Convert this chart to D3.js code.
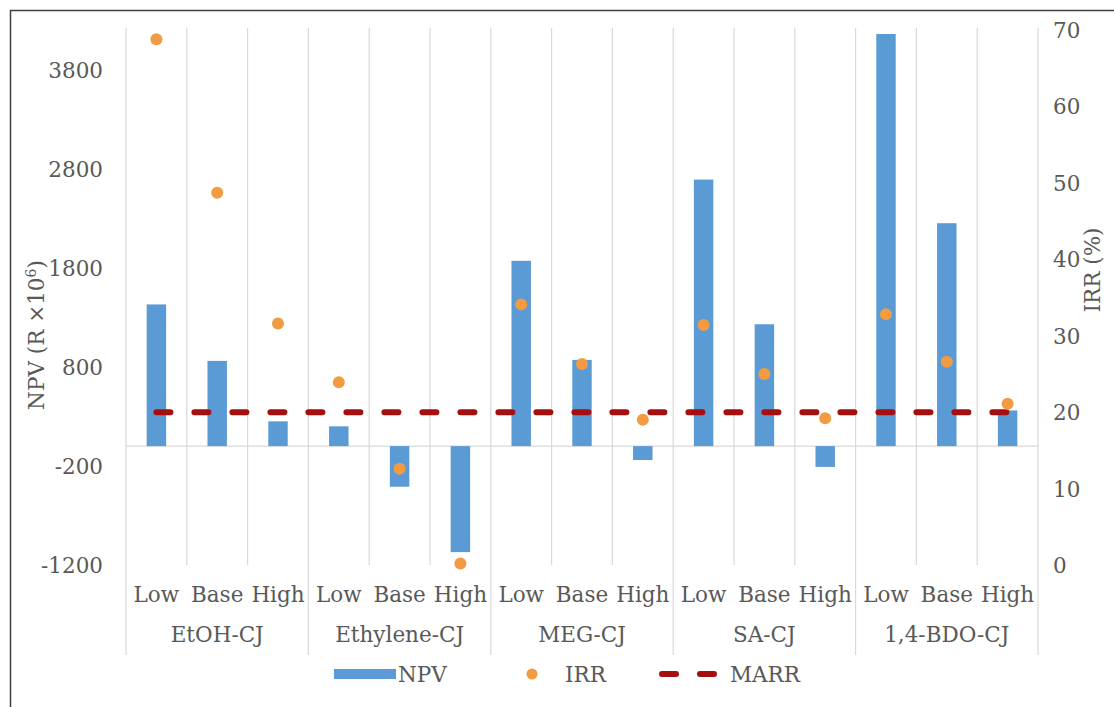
<!DOCTYPE html>
<html>
<head>
<meta charset="utf-8">
<script src="https://cdn.jsdelivr.net/npm/d3@7/dist/d3.min.js"></script>
<style>
  html, body { margin: 0; padding: 0; background: #fff; }
  svg text { font-family: "DejaVu Serif", "Liberation Serif", serif; fill: #595959; }
</style>
</head>
<body>
<svg id="chart" width="1114" height="707"></svg>
<script>
// Pathways and price scenarios
const groups = ["EtOH-CJ", "Ethylene-CJ", "MEG-CJ", "SA-CJ", "1,4-BDO-CJ"];
const scenarios = ["Low", "Base", "High"];

// Net present value, R ×10^6 (one per pathway/scenario, in order)
const npv = [1430, 860, 250, 200, -410, -1070, 1870, 870, -140, 2690, 1230, -210, 4160, 2250, 360];
// Internal rate of return, %
const irr = [68.8, 48.7, 31.6, 23.9, 12.6, 0.2, 34.1, 26.3, 19.0, 31.4, 25.0, 19.2, 32.8, 26.6, 21.1];
// Minimum acceptable rate of return, %
const marr = [20, 20, 20, 20, 20, 20, 20, 20, 20, 20, 20, 20, 20, 20, 20];

// Axis ticks
const npvTicks = [-1200, -200, 800, 1800, 2800, 3800];
const irrTicks = [0, 10, 20, 30, 40, 50, 60, 70];

const FS = "21.5px";

const rows = [];
groups.forEach((g, gi) => scenarios.forEach((s, si) => {
  const i = gi * 3 + si;
  rows.push({ key: g + "|" + s, group: g, scenario: s, npv: npv[i], irr: irr[i], marr: marr[i] });
}));

const svg = d3.select("#chart");
const W = 1114, H = 707;
const plot = { left: 126, right: 1038, top: 30, bottom: 565 };

const x = d3.scaleBand().domain(rows.map(d => d.key)).range([plot.left, plot.right]).paddingInner(0).paddingOuter(0);
const yL = d3.scaleLinear().domain([-1200, 4200]).range([plot.bottom, plot.top]);
const yR = d3.scaleLinear().domain([0, 70]).range([plot.bottom, plot.top]);
const bw = x.bandwidth();
const barW = bw * 0.32;

// Outer chart frame
svg.append("rect").attr("x", 10.5).attr("y", 10.5).attr("width", W + 20).attr("height", H + 20)
  .attr("fill", "none").attr("stroke", "#3f3f3f").attr("stroke-width", 1.5);

// Vertical gridlines at category boundaries
const bounds = rows.map(d => x(d.key)).concat([plot.right]);
svg.append("g").selectAll("line").data(bounds).join("line")
  .attr("x1", d => d).attr("x2", d => d)
  .attr("y1", plot.top - 2)
  .attr("y2", (d, i) => (i % 3 === 0) ? 655 : plot.bottom)
  .attr("stroke", "#d9d9d9").attr("stroke-width", 1.2);

// Zero line of the category axis
svg.append("line").attr("x1", plot.left).attr("x2", plot.right)
  .attr("y1", yL(0)).attr("y2", yL(0)).attr("stroke", "#d9d9d9").attr("stroke-width", 1.2);

// NPV bars
svg.append("g").selectAll("rect").data(rows).join("rect")
  .attr("x", d => x(d.key) + (bw - barW) / 2)
  .attr("width", barW)
  .attr("y", d => yL(Math.max(0, d.npv)))
  .attr("height", d => Math.abs(yL(d.npv) - yL(0)))
  .attr("fill", "#5b9bd5");

// MARR dashed line
const line = d3.line().x(d => x(d.key) + bw / 2).y(d => yR(d.marr));
svg.append("path").datum(rows).attr("d", line)
  .attr("fill", "none").attr("stroke", "#a50f0f").attr("stroke-width", 6)
  .attr("stroke-linecap", "round").attr("stroke-dasharray", "14 24");

// IRR markers
svg.append("g").selectAll("circle").data(rows).join("circle")
  .attr("cx", d => x(d.key) + bw / 2).attr("cy", d => yR(d.irr)).attr("r", 6)
  .attr("fill", "#f29b43");

// Left axis
const axL = svg.append("g").attr("transform", `translate(${plot.left - 23},0)`)
  .call(d3.axisLeft(yL).tickValues(npvTicks).tickSize(0).tickPadding(0).tickFormat(d => String(d)));
axL.select(".domain").remove();
axL.selectAll("text").style("font-size", FS).attr("dy", "0.35em");

// Right axis
const axR = svg.append("g").attr("transform", `translate(${plot.right + 15},0)`)
  .call(d3.axisRight(yR).tickValues(irrTicks).tickSize(0).tickPadding(0));
axR.select(".domain").remove();
axR.selectAll("text").style("font-size", FS).attr("dy", "0.35em");

// Scenario labels
svg.append("g").selectAll("text").data(rows).join("text")
  .attr("x", d => x(d.key) + bw / 2).attr("y", 594).attr("dy", "0.35em")
  .attr("text-anchor", "middle").style("font-size", FS).text(d => d.scenario);

// Pathway labels
svg.append("g").selectAll("text").data(groups).join("text")
  .attr("x", (g, gi) => x(rows[gi * 3 + 1].key) + bw / 2).attr("y", 634).attr("dy", "0.35em")
  .attr("text-anchor", "middle").style("font-size", FS).text(g => g);

// Axis titles
const tl = svg.append("text").attr("transform", "translate(36,335) rotate(-90)")
  .attr("text-anchor", "middle").attr("dy", "0.35em").style("font-size", FS);
tl.append("tspan").text("NPV (R ×10");
tl.append("tspan").attr("baseline-shift", "super").style("font-size", "14px").text("6");
tl.append("tspan").text(")");

svg.append("text").attr("transform", "translate(1092,270) rotate(-90)")
  .attr("text-anchor", "middle").attr("dy", "0.35em").style("font-size", FS).text("IRR (%)");

// Legend
const lg = svg.append("g");
const ly = 674;
lg.append("rect").attr("x", 334).attr("y", ly - 5).attr("width", 62).attr("height", 10).attr("fill", "#5b9bd5");
lg.append("text").attr("x", 398).attr("y", ly).attr("dy", "0.35em").style("font-size", FS).text("NPV");
lg.append("circle").attr("cx", 532).attr("cy", ly).attr("r", 5.5).attr("fill", "#f29b43");
lg.append("text").attr("x", 565).attr("y", ly).attr("dy", "0.35em").style("font-size", FS).text("IRR");
lg.append("line").attr("x1", 662).attr("x2", 720).attr("y1", ly).attr("y2", ly)
  .attr("stroke", "#a50f0f").attr("stroke-width", 6).attr("stroke-linecap", "round").attr("stroke-dasharray", "14 24");
lg.append("text").attr("x", 730).attr("y", ly).attr("dy", "0.35em").style("font-size", FS).text("MARR");
</script>
</body>
</html>
